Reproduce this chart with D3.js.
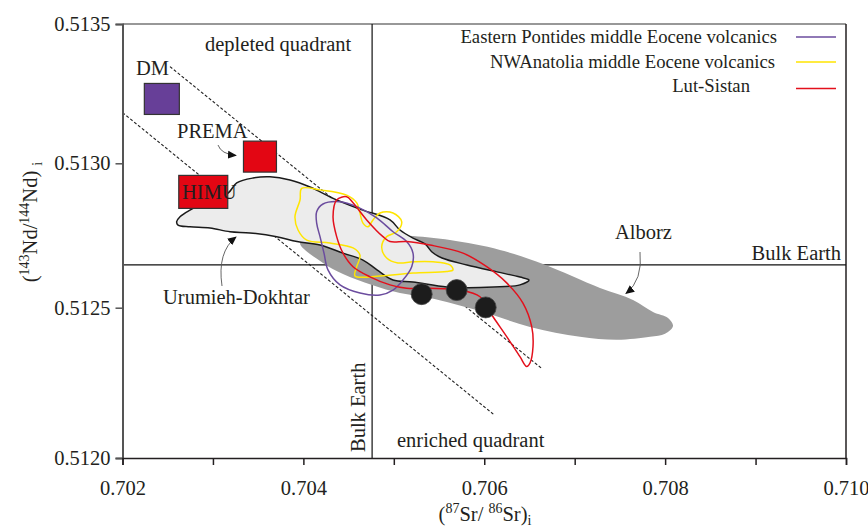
<!DOCTYPE html>
<html><head><meta charset="utf-8">
<script src="https://cdn.jsdelivr.net/npm/d3@7"></script>
<style>
html,body{margin:0;padding:0;background:#fff;}
svg text{font-family:"Liberation Serif","Times New Roman",serif !important;fill:#231f20;}
</style></head>
<body><svg id="c" width="868" height="529"></svg>
<script>
// ---------------- data ----------------
const xTicks = [0.702,0.703,0.704,0.705,0.706,0.707,0.708,0.709,0.710];
const xTickLabels = ["0.702","","0.704","","0.706","","0.708","","0.710"];
const yTicks = [0.5120,0.5125,0.5130,0.5135];
const yTickLabels = ["0.5120","0.5125","0.5130","0.5135"];
const bulkEarth = {sr:0.70476, nd:0.512648};
const endMemberNames = ["DM","PREMA","HIMU"];
const endMemberSr = [0.702435,0.703520,0.702893];
const endMemberNd = [0.513231,0.513024,0.512901];
const sampleSr = [0.705308,0.705695,0.706016];
const sampleNd = [0.512547,0.512561,0.512501];
const mantleArray = [
  [[0.702525,0.513347],[0.706635,0.512298]],
  [[0.702000,0.513182],[0.706100,0.512146]]
];
const alborz = [
[0.703963,0.512724],[0.704184,0.512752],[0.704626,0.512759],[0.705212,0.512748],
[0.705621,0.512734],[0.706174,0.512700],[0.706650,0.512651],[0.707280,0.512568],
[0.707645,0.512527],[0.707866,0.512486],[0.708032,0.512466],[0.708087,0.512439],
[0.707999,0.512413],[0.707833,0.512403],[0.707468,0.512393],[0.707059,0.512403],
[0.706506,0.512436],[0.705953,0.512489],[0.705400,0.512534],[0.705068,0.512551],
[0.704759,0.512579],[0.704438,0.512617],[0.704217,0.512655]
];
const urumieh = [
[0.702599,0.512798],[0.702636,0.512815],[0.702746,0.512838],[0.702857,0.512856],
[0.703167,0.512897],[0.703263,0.512932],[0.703443,0.512949],[0.703631,0.512953],
[0.703852,0.512942],[0.704073,0.512918],[0.704368,0.512873],[0.704659,0.512838],
[0.704958,0.512804],[0.705068,0.512769],[0.705212,0.512741],[0.705345,0.512721],
[0.705422,0.512693],[0.705533,0.512672],[0.705809,0.512648],[0.706141,0.512624],
[0.706395,0.512606],[0.706495,0.512596],[0.706395,0.512579],[0.705953,0.512570],
[0.705588,0.512572],[0.705212,0.512589],[0.704991,0.512596],[0.704814,0.512631],
[0.704659,0.512665],[0.704438,0.512689],[0.704184,0.512717],[0.703930,0.512729],
[0.703705,0.512746],[0.703410,0.512759],[0.703189,0.512763],[0.702968,0.512776],
[0.702746,0.512780],[0.702614,0.512786]
];
const pontides = [
[0.704147,0.512832],[0.704217,0.512859],[0.704405,0.512867],[0.704590,0.512850],
[0.704811,0.512811],[0.704991,0.512763],[0.705142,0.512729],[0.705212,0.512689],
[0.705198,0.512642],[0.705102,0.512596],[0.704991,0.512561],[0.704847,0.512544],
[0.704626,0.512551],[0.704405,0.512579],[0.704272,0.512631],[0.704228,0.512689],
[0.704184,0.512746],[0.704147,0.512793]
];
const nwAnatolia = [
[0.703981,0.512913],[0.704184,0.512908],[0.704479,0.512890],[0.704590,0.512863],
[0.704659,0.512793],[0.704715,0.512780],[0.704770,0.512804],[0.704847,0.512828],
[0.704991,0.512828],[0.705087,0.512798],[0.705032,0.512763],[0.704921,0.512746],
[0.704866,0.512711],[0.704921,0.512672],[0.705046,0.512655],[0.705212,0.512659],
[0.705433,0.512659],[0.705621,0.512648],[0.705654,0.512631],[0.705585,0.512625],
[0.705212,0.512620],[0.704847,0.512610],[0.704571,0.512610],[0.704590,0.512642],
[0.704626,0.512682],[0.704549,0.512707],[0.704294,0.512724],[0.704037,0.512734],
[0.703941,0.512769],[0.703907,0.512815],[0.703963,0.512873]
];
const lutSistan = [
[0.704368,0.512873],[0.704479,0.512884],[0.704549,0.512863],[0.704700,0.512804],
[0.704880,0.512746],[0.704958,0.512729],[0.705142,0.512729],[0.705400,0.512717],
[0.705765,0.512689],[0.706027,0.512642],[0.706248,0.512586],[0.706428,0.512516],
[0.706525,0.512437],[0.706539,0.512370],[0.706506,0.512316],[0.706469,0.512304],
[0.706395,0.512337],[0.706248,0.512404],[0.706097,0.512470],[0.705953,0.512538],
[0.705732,0.512561],[0.705400,0.512567],[0.705142,0.512567],[0.704958,0.512579],
[0.704737,0.512607],[0.704549,0.512642],[0.704438,0.512689],[0.704368,0.512746],
[0.704328,0.512815]
];
const legendNames = ["Eastern Pontides middle Eocene volcanics","NWAnatolia middle Eocene volcanics","Lut-Sistan"];
const legendColors = ["#6b4c9e","#ffe500","#e3101c"];

// ---------------- drawing ----------------
const SERIF = '"Liberation Serif","Times New Roman",serif';
const svg = d3.select("#c");
const x = d3.scaleLinear().domain([0.702,0.710]).range([122.5,846]);
const y = d3.scaleLinear().domain([0.5120,0.5125,0.5130,0.5135]).range([458,307.7,163.3,24]);
const FONT = 20.5;

const defs = svg.append("defs");
defs.append("marker").attr("id","ah").attr("viewBox","0 0 10 10").attr("refX",9).attr("refY",5)
  .attr("markerWidth",9).attr("markerHeight",9).attr("markerUnits","userSpaceOnUse").attr("orient","auto")
  .append("path").attr("d","M0,0.5 L10,5 L0,9.5 Z").attr("fill","#111");

// frame (top & right)
svg.append("line").attr("x1",x(0.702)).attr("x2",x(0.710)).attr("y1",y(0.5135)).attr("y2",y(0.5135))
  .attr("stroke","#333").attr("stroke-width",1.2);
svg.append("line").attr("x1",x(0.710)).attr("x2",x(0.710)).attr("y1",y(0.5135)).attr("y2",y(0.512))
  .attr("stroke","#231f20").attr("stroke-width",1.5);

// bulk earth lines
svg.append("line").attr("x1",x(bulkEarth.sr)).attr("x2",x(bulkEarth.sr)).attr("y1",y(0.5135)).attr("y2",y(0.512))
  .attr("stroke","#111").attr("stroke-width",1.2);
svg.append("line").attr("x1",x(0.702)).attr("x2",x(0.710)).attr("y1",y(bulkEarth.nd)).attr("y2",y(bulkEarth.nd))
  .attr("stroke","#111").attr("stroke-width",1.2);

// mantle array dashed lines
const seg = d3.line().x(d=>x(d[0])).y(d=>y(d[1]));
mantleArray.forEach(s=>{
  svg.append("path").attr("d",seg(s)).attr("fill","none").attr("stroke","#222")
    .attr("stroke-width",1.1).attr("stroke-dasharray","3,2");
});

const closed = d3.line().x(d=>x(d[0])).y(d=>y(d[1])).curve(d3.curveCatmullRomClosed.alpha(0.5));

// Alborz field
svg.append("path").attr("d",closed(alborz)).attr("fill","#9d9d9d").attr("stroke","none");
// Urumieh-Dokhtar field
svg.append("path").attr("d",closed(urumieh)).attr("fill","#ececec").attr("stroke","#1a1a1a").attr("stroke-width",1.5);

// contours
[[nwAnatolia,legendColors[1]],[pontides,legendColors[0]],[lutSistan,legendColors[2]]].forEach(([pts,c])=>{
  svg.append("path").attr("d",closed(pts)).attr("fill","none").attr("stroke",c).attr("stroke-width",1.5);
});

// samples
svg.selectAll("circle.s").data(sampleSr.map((s,i)=>[s,sampleNd[i]])).enter().append("circle")
  .attr("cx",d=>x(d[0])).attr("cy",d=>y(d[1])).attr("r",10.5)
  .attr("fill","#1c1c1c").attr("stroke","#444").attr("stroke-width",0.8);

// end-member squares
const sqW = [35,33,49], sqH = [31,31,33];
const sqFill = ["#673f98","#e30613","#e30613"];
endMemberNames.forEach((n,i)=>{
  svg.append("rect").attr("x",x(endMemberSr[i])-sqW[i]/2).attr("y",y(endMemberNd[i])-sqH[i]/2)
    .attr("width",sqW[i]).attr("height",sqH[i]).attr("fill",sqFill[i]).attr("stroke","#333").attr("stroke-width",1.2);
});

// axes
const yAxis = d3.axisLeft(y).tickValues(yTicks).tickFormat((d,i)=>yTickLabels[i]).tickSize(7).tickPadding(5);
const gy = svg.append("g").attr("transform",`translate(${x(0.702)},0)`).call(yAxis)
  .attr("font-family",SERIF).attr("font-size",FONT);
gy.select(".domain").attr("stroke","#555").attr("stroke-width",2);
gy.selectAll(".tick line").attr("stroke","#555").attr("stroke-width",1.5);
gy.selectAll(".tick text").style("font-family",SERIF).style("font-size",FONT+"px").attr("fill","#231f20");

const xAxis = d3.axisBottom(x).tickValues(xTicks).tickFormat((d,i)=>xTickLabels[i]).tickSize(7).tickPadding(15);
const gx = svg.append("g").attr("transform",`translate(0,${y(0.512)})`).call(xAxis)
  .attr("font-family",SERIF).attr("font-size",FONT);
gx.select(".domain").attr("stroke","#231f20").attr("stroke-width",1.5);
gx.selectAll(".tick line").attr("stroke","#231f20").attr("stroke-width",1.5);
gx.selectAll(".tick text").style("font-family",SERIF).style("font-size",FONT+"px").attr("fill","#231f20");

// axis titles
const xt = svg.append("text").attr("x",485).attr("y",521).attr("text-anchor","middle").attr("font-size",FONT);
xt.append("tspan").text("(");
xt.append("tspan").attr("font-size",14).attr("dy",-8).text("87");
xt.append("tspan").attr("dy",8).text("Sr/ ");
xt.append("tspan").attr("font-size",14).attr("dy",-8).text("86");
xt.append("tspan").attr("dy",8).text("Sr)");
xt.append("tspan").attr("font-size",14).attr("dy",4).text("i");

const yt = svg.append("text").attr("transform","translate(37,222) rotate(-90)").attr("text-anchor","middle").attr("font-size",FONT);
yt.append("tspan").text("(");
yt.append("tspan").attr("font-size",14).attr("dy",-8).text("143");
yt.append("tspan").attr("dy",8).text("Nd/");
yt.append("tspan").attr("font-size",14).attr("dy",-8).text("144");
yt.append("tspan").attr("dy",8).text("Nd) ");
yt.append("tspan").attr("font-size",14).attr("dy",5).text("i");

// annotations
function label(t,px,py,anchor){svg.append("text").attr("x",px).attr("y",py).attr("font-size",FONT).attr("text-anchor",anchor||"start").text(t);}
label("depleted quadrant",205,51);
label("enriched quadrant",397,447);
label("DM",136,75);
label("PREMA",177,138);
label("HIMU",182,199);
label("Urumieh-Dokhtar",163,304);
label("Alborz",615,239);
label("Bulk Earth",841,260,"end");
svg.append("text").attr("transform",`translate(${x(bulkEarth.sr)-7},452) rotate(-90)`).attr("font-size",FONT).text("Bulk Earth");

// arrows
svg.append("path").attr("d","M218,145 Q221,154 236,155.5").attr("fill","none").attr("stroke","#555").attr("stroke-width",0.9).attr("marker-end","url(#ah)");
svg.append("path").attr("d","M222,286 Q217,252 236,237").attr("fill","none").attr("stroke","#555").attr("stroke-width",0.9).attr("marker-end","url(#ah)");
svg.append("path").attr("d","M640,252 Q643,280 626,293.5").attr("fill","none").attr("stroke","#555").attr("stroke-width",0.9).attr("marker-end","url(#ah)");

// legend
const legY = [37,62,88.5], legTextY = [42.5,68,92], legTextX = [777,775,750];
legendNames.forEach((n,i)=>{
  svg.append("text").attr("x",legTextX[i]).attr("y",legTextY[i]).attr("text-anchor","end").attr("font-size",18.7).text(n);
  svg.append("line").attr("x1",796).attr("x2",836).attr("y1",legY[i]).attr("y2",legY[i]).attr("stroke",legendColors[i]).attr("stroke-width",1.5);
});
</script></body></html>
